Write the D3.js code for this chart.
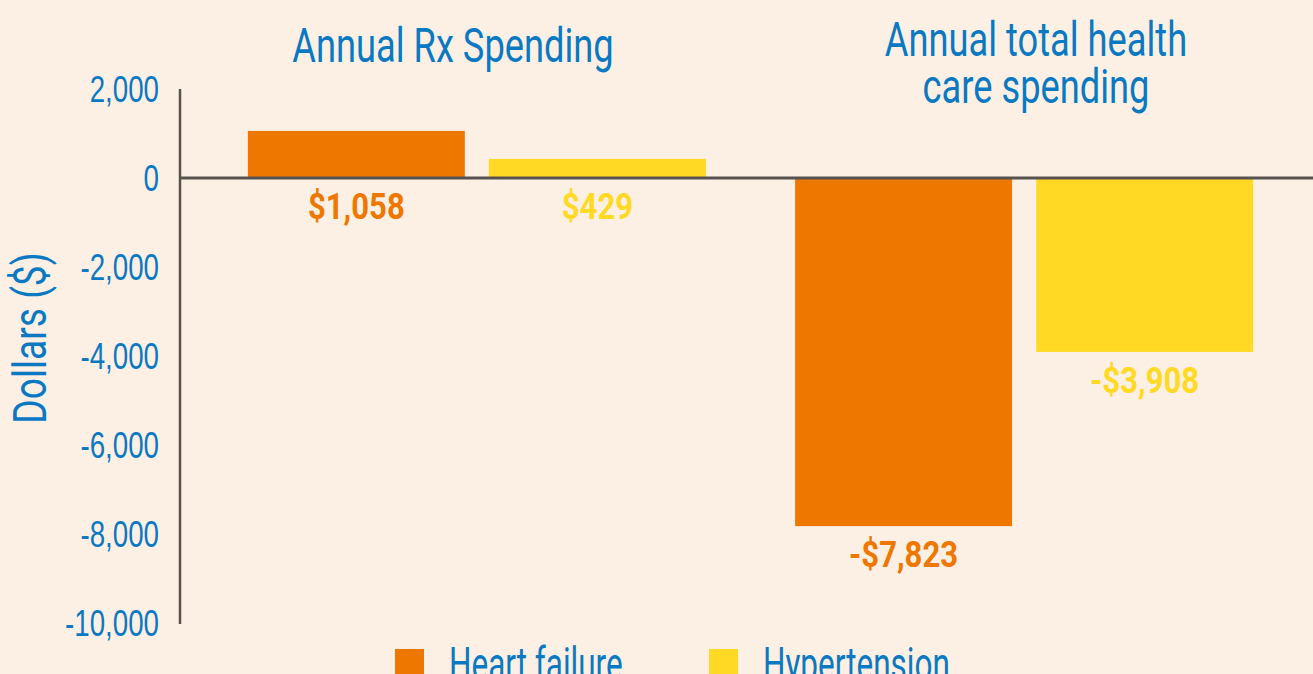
<!DOCTYPE html>
<html>
<head>
<meta charset="utf-8">
<script src="https://cdn.jsdelivr.net/npm/d3@7"></script>
<style>
  html, body { margin: 0; padding: 0; background: #fcf0e4; overflow: hidden; }
  svg { display: block; font-family: Roboto, "Open Sans", sans-serif; }
</style>
</head>
<body>
<div id="chart"></div>
<script>
// data
const groups = ["Annual Rx Spending", "Annual total health care spending"];
const groupTitleLines = [["Annual Rx Spending"], ["Annual total health", "care spending"]];
const series = ["Heart failure", "Hypertension"];
const heartFailure = [1058, -7823];
const hypertension = [429, -3908];
const yTicks = [2000, 0, -2000, -4000, -6000, -8000, -10000];

const colors = ["#ee7700", "#ffd923"];
const blue = "#0a79c2";
const axisGrey = "#57524f";

const width = 1313, height = 674;

// plain hyphen for negatives, like the original
const fmt = d => d3.format(",")(d).replace("\u2212", "-");

const svg = d3.select("#chart").append("svg")
    .attr("width", width)
    .attr("height", height);

svg.append("rect")
    .attr("width", width)
    .attr("height", height)
    .attr("fill", "#fcf0e4");

// scales
const x0 = d3.scaleBand()
    .domain(groups)
    .range([180, 1321])
    .paddingInner(0.163)
    .paddingOuter(0.124);

const x1 = d3.scaleBand()
    .domain(series)
    .range([0, x0.bandwidth()])
    .paddingInner(0.1);

const y = d3.scaleLinear()
    .domain([-10000, 2000])
    .range([623, 89]);

const color = d3.scaleOrdinal(series, colors);

// squeeze text horizontally so it looks like the condensed face in the original
function condense(sel, k) {
    sel.each(function () {
        const len = this.getComputedTextLength();
        d3.select(this)
            .attr("textLength", len * k)
            .attr("lengthAdjust", "spacingAndGlyphs");
    });
}

// y axis
const yAxis = svg.append("g")
    .attr("transform", "translate(180,0)")
    .call(d3.axisLeft(y).tickValues(yTicks).tickSize(0).tickPadding(21)
        .tickFormat(fmt));
yAxis.select(".domain")
    .attr("stroke", axisGrey)
    .attr("stroke-width", 2.5)
    .attr("d", `M0,${y(2000)}V${y(-10000) + 1}`);
yAxis.selectAll("text")
    .attr("fill", blue)
    .attr("font-size", 36)
    .attr("dy", "0.36em")
    .call(condense, 0.77);

svg.append("text")
    .attr("transform", `translate(46,338) rotate(-90)`)
    .attr("text-anchor", "middle")
    .attr("fill", blue)
    .attr("font-size", 47)
    .text("Dollars ($)")
    .call(condense, 0.79);

// bars
const data = groups.map((g, i) => ({
    group: g,
    values: [
        { key: series[0], value: heartFailure[i] },
        { key: series[1], value: hypertension[i] }
    ]
}));

const gGroup = svg.selectAll("g.group")
    .data(data)
    .join("g")
    .attr("class", "group")
    .attr("transform", d => `translate(${x0(d.group)},0)`);

gGroup.selectAll("rect")
    .data(d => d.values)
    .join("rect")
    .attr("x", d => x1(d.key))
    .attr("width", x1.bandwidth())
    .attr("y", d => Math.min(y(d.value), y(0)))
    .attr("height", d => Math.abs(y(d.value) - y(0)))
    .attr("fill", d => color(d.key));

gGroup.selectAll("text.value")
    .data(d => d.values)
    .join("text")
    .attr("class", "value")
    .attr("x", d => x1(d.key) + x1.bandwidth() / 2)
    .attr("y", d => Math.max(y(d.value), y(0)) + 41)
    .attr("text-anchor", "middle")
    .attr("font-size", 37)
    .attr("font-weight", "bold")
    .attr("fill", d => color(d.key))
    .text(d => (d.value < 0 ? "-$" : "$") + d3.format(",")(Math.abs(d.value)))
    .call(condense, 0.84);

// zero line
svg.append("line")
    .attr("x1", 180)
    .attr("x2", width)
    .attr("y1", y(0))
    .attr("y2", y(0))
    .attr("stroke", axisGrey)
    .attr("stroke-width", 3);

// group titles
const titleX = [453, 1036];
const titleY = [[62], [56, 103]];
groupTitleLines.forEach((lines, i) => {
    lines.forEach((line, j) => {
        svg.append("text")
            .attr("x", titleX[i])
            .attr("y", titleY[i][j])
            .attr("text-anchor", "middle")
            .attr("fill", blue)
            .attr("font-size", 49)
            .text(line)
            .call(condense, 0.74);
    });
});

// legend
const legendX = [395, 709];
const legend = svg.selectAll("g.legend")
    .data(series)
    .join("g")
    .attr("class", "legend")
    .attr("transform", (d, i) => `translate(${legendX[i]},649)`);
legend.append("rect")
    .attr("width", 29)
    .attr("height", 29)
    .attr("fill", d => color(d));
legend.append("text")
    .attr("x", 54)
    .attr("y", 31)
    .attr("fill", blue)
    .attr("font-size", 47)
    .text(d => d)
    .call(condense, 0.67);
</script>
</body>
</html>
